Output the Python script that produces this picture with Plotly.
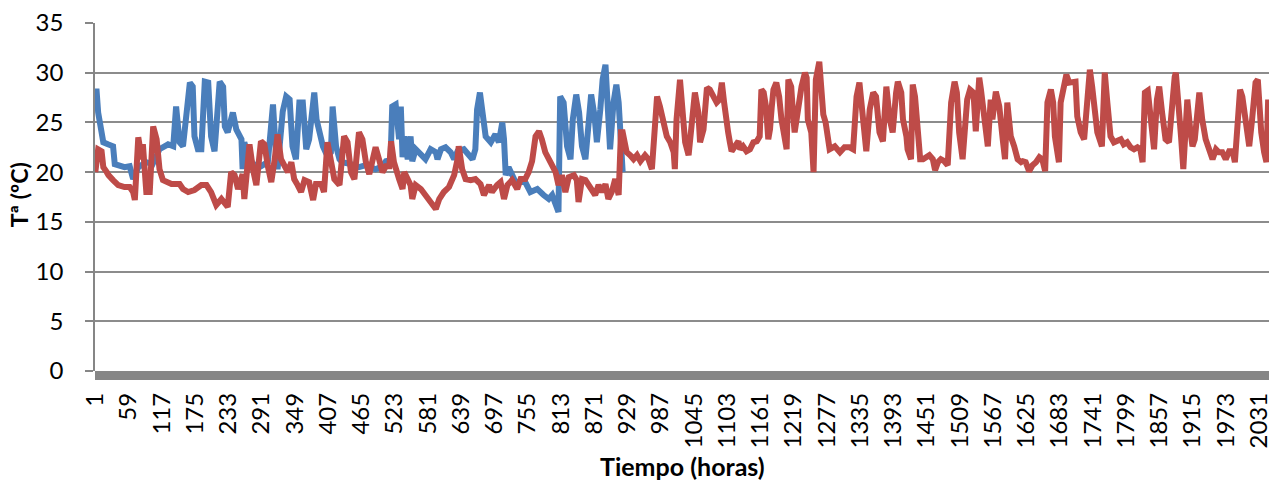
import plotly.graph_objects as go

# Hour index (x) and temperature (y)
blue_hours = [1, 3, 6, 12, 15, 23, 32, 35, 41, 52, 61, 67, 76, 90, 101, 113, 128, 137, 142, 148, 154, 160,
              166, 171, 174, 180, 186, 192, 198, 203, 209, 218, 224, 227, 232, 241, 247, 256, 258,
              261, 266, 276, 290, 302, 305, 311, 316, 319, 328, 334, 340, 345, 351, 357, 363, 369, 374,
              380, 383, 387, 392, 398, 406, 412, 415, 421, 427, 432, 447, 461, 473, 490, 502, 508, 516,
              519, 525, 531, 534, 537, 540, 546, 551, 554, 560, 569, 577, 586, 595, 598, 604, 612, 621,
              627, 633, 644, 653, 659, 664, 667, 672, 678, 682, 691, 699, 705, 711, 714, 717, 722, 728,
              734, 743, 751, 760, 772, 783, 792, 798, 804, 809, 812, 818, 824, 830, 834, 840, 845, 850,
              856, 862, 866, 872, 876, 882, 886, 891, 895, 899, 905, 910, 914, 918, 921]
blue_temp = [27.0, 28.4, 26.0, 23.6, 23.0, 22.8, 22.6, 20.8, 20.7, 20.5, 20.6, 19.3, 20.5, 21.0, 20.8, 22.3,
             22.8, 22.6, 26.6, 23.0, 22.6, 25.3, 29.0, 28.6, 23.6, 22.3, 22.3, 29.1, 29.0, 23.6, 22.1,
             29.1, 28.6, 24.6, 24.0, 26.0, 24.3, 23.3, 20.3,
             23.0, 22.0, 20.8, 20.6, 21.0, 22.6, 26.8, 22.0, 20.3, 26.1, 27.6, 27.3, 22.6, 21.3, 27.0,
             27.0, 22.3, 23.3, 27.0, 28.0, 25.3, 24.3, 22.6, 21.6, 22.0, 26.6, 22.6, 21.3, 21.0, 20.8,
             20.5, 20.7, 20.3, 20.6, 21.1, 21.2, 26.6, 26.8, 23.3, 26.6, 21.5, 23.6, 21.3, 23.6, 21.1,
             22.3, 21.7, 21.3, 22.3, 22.0, 21.3, 22.3, 22.5, 22.0, 21.3, 22.1, 22.3, 21.8, 21.3, 22.3,
             26.3, 28.0, 25.6, 23.6, 23.0, 23.8, 23.0, 25.0, 23.3, 19.7, 20.5, 19.7, 19.0, 19.0, 19.0,
             18.0, 18.3, 17.7, 17.3, 17.7, 16.7, 16.0, 27.6, 27.0, 22.6, 21.3, 25.3, 27.8, 26.0, 22.6,
             21.3, 25.3, 27.8, 25.6, 23.0, 26.3, 29.3, 30.8, 27.3, 22.3, 27.0, 28.8, 27.0, 24.0, 20.0]

red_hours = [1, 6, 12, 15, 21, 24, 32, 41, 52, 61, 67, 70, 76, 82, 84, 90, 96, 102, 108, 113, 119, 134,
             148, 154, 163, 174, 186, 195, 203, 212, 221, 232, 238, 244, 250, 258, 261, 270, 276, 282,
             290, 296, 302, 308, 314, 319, 325, 331, 337, 343, 348, 354, 360, 366, 374, 381, 386, 395,
             400, 406, 412, 418, 427, 435, 441, 447, 453, 461, 467, 473, 479, 485, 490, 496, 502, 508,
             514, 517, 522, 531, 537, 540, 546, 551, 554, 560, 569, 577, 586, 595, 601, 609, 618, 627,
             633, 635, 641, 647, 656, 664, 673, 679, 688, 693, 702, 708, 714, 720, 728, 737, 743, 751,
             757, 763, 769, 775, 780, 786, 795, 804, 809, 815, 821, 827, 836, 841, 844, 850, 856, 862,
             867, 873, 879, 885, 891, 896, 902, 908, 914, 918, 921, 924, 928, 934, 940, 946, 952, 960,
             966, 972, 978, 981, 986, 992, 998, 1004, 1010, 1012, 1015, 1021, 1025, 1030, 1036, 1041,
             1047, 1053, 1056, 1062, 1068, 1073, 1079, 1085, 1090, 1094, 1098, 1101, 1105, 1108, 1111,
             1117, 1123, 1126, 1131, 1137, 1143, 1149, 1155, 1160, 1163, 1167, 1171, 1175, 1178, 1181,
             1184, 1189, 1194, 1198, 1204, 1207, 1210, 1215, 1218, 1221, 1227, 1230, 1233, 1239, 1242,
             1244, 1250, 1254, 1258, 1264, 1268, 1271, 1275, 1279, 1282, 1291, 1300, 1308, 1317, 1323,
             1329, 1334, 1340, 1343, 1346, 1352, 1358, 1363, 1369, 1375, 1378, 1381, 1387, 1392, 1398,
             1401, 1407, 1410, 1416, 1418, 1424, 1427, 1431, 1436, 1440, 1445, 1450, 1456, 1462, 1466,
             1471, 1476, 1482, 1488, 1494, 1500, 1504, 1508, 1514, 1517, 1522, 1527, 1533, 1537, 1540,
             1543, 1546, 1552, 1558, 1563, 1566, 1572, 1578, 1584, 1588, 1592, 1598, 1604, 1610, 1616,
             1619, 1624, 1630, 1636, 1642, 1648, 1653, 1658, 1662, 1668, 1672, 1675, 1679, 1682, 1685,
             1691, 1695, 1700, 1706, 1711, 1714, 1720, 1726, 1732, 1736, 1740, 1745, 1749, 1757, 1759,
             1762, 1766, 1772, 1778, 1784, 1790, 1795, 1801, 1807, 1813, 1819, 1824, 1828, 1832, 1837,
             1843, 1848, 1853, 1857, 1862, 1868, 1874, 1880, 1884, 1886, 1890, 1895, 1899, 1902, 1906,
             1911, 1915, 1919, 1922, 1927, 1932, 1938, 1944, 1950, 1956, 1961, 1967, 1973, 1979, 1985,
             1989, 1993, 1998, 2002, 2008, 2014, 2019, 2025, 2029, 2035, 2040, 2044, 2047]
red_temp = [20.0, 22.3, 22.1, 20.5, 20.0, 19.7, 19.2, 18.7, 18.5, 18.5, 18.0, 17.2, 23.5, 21.3, 22.8, 18.0,
            18.0, 24.6, 23.3, 20.3, 19.2, 18.8, 18.8, 18.3, 18.0, 18.2, 18.7, 18.7, 18.0, 16.7, 17.3,
            16.5, 20.0, 19.7, 18.3, 19.8, 17.3, 22.8, 20.3, 18.7, 23.1, 22.8, 20.6, 19.0, 21.3, 23.8,
            21.3, 20.5, 20.0, 21.0, 19.3, 18.7, 18.0, 19.2, 19.0, 17.2, 18.8, 18.8, 18.0, 23.0, 21.0,
            19.3, 18.7, 23.6, 23.0, 20.0, 19.3, 24.0, 23.3, 21.0, 19.8, 21.0, 22.5, 21.3, 20.0, 20.6,
            20.6, 23.1, 21.0, 19.3, 18.3, 20.0, 19.3, 18.7, 17.3, 18.7, 18.3, 17.7, 17.0, 16.3, 17.3,
            18.0, 18.5, 19.7, 21.3, 22.6, 20.3, 19.3, 19.2, 19.3, 18.8, 17.7, 18.7, 18.0, 18.7, 19.0,
            17.3, 18.7, 19.2, 18.3, 19.3, 19.3, 20.0, 21.1, 23.6, 24.1, 23.3, 22.0, 21.0, 20.0, 18.7,
            19.7, 18.0, 19.5, 19.7, 19.2, 17.0, 19.3, 19.2, 18.7, 18.2, 17.7, 18.7, 18.0, 18.8, 17.3,
            18.0, 19.3, 17.7, 24.0, 24.0, 23.0, 22.0, 21.7, 21.3, 21.7, 21.1, 21.7, 21.3, 20.3, 24.6,
            27.6, 26.6, 25.0, 23.6, 23.0, 22.0, 20.3, 25.3, 29.3, 26.6, 23.0, 21.7, 25.3, 28.0, 26.0,
            23.0, 24.3, 28.5, 28.3, 27.6, 27.0, 27.3, 29.0, 27.0, 25.0, 24.0, 23.0, 22.1, 22.6, 23.1,
            22.3, 22.6, 22.1, 22.3, 23.0, 23.1, 23.6, 28.3, 28.0, 26.6, 23.3, 24.3, 26.5, 28.3, 29.0,
            27.6, 25.3, 23.0, 22.3, 29.3, 28.6, 26.0, 24.0, 26.3, 28.3, 28.6, 30.0, 29.5, 25.3, 24.0,
            20.0, 29.3, 31.1, 28.0, 25.8, 25.0, 23.3, 22.3, 22.6, 22.0, 22.5, 22.5, 22.3, 27.6, 29.0,
            25.3, 23.0, 22.1, 26.3, 28.0, 27.6, 24.0, 23.1, 27.0, 28.6, 25.3, 24.0, 28.0, 29.1, 28.0,
            25.3, 23.6, 22.3, 21.3, 28.8, 27.6, 24.3, 21.3, 21.3, 21.5, 21.7, 21.3, 20.2, 21.0, 21.3,
            21.1, 20.7, 27.0, 29.1, 28.0, 24.0, 21.3, 23.6, 27.3, 28.3, 28.0, 24.1, 28.6, 29.5, 28.3,
            25.3, 22.6, 27.3, 25.3, 28.1, 26.6, 23.3, 21.3, 27.0, 23.6, 22.6, 21.3, 21.0, 21.1, 21.0,
            20.1, 20.7, 21.0, 21.5, 21.3, 20.1, 27.0, 28.3, 27.0, 23.6, 22.0, 21.0, 27.0, 28.6, 29.8,
            29.0, 29.0, 29.1, 25.6, 24.0, 23.3, 27.0, 30.3, 28.6, 25.3, 24.0, 22.6, 28.0, 30.0, 27.3,
            23.6, 23.0, 23.1, 23.3, 22.8, 23.0, 22.5, 22.3, 22.5, 22.3, 21.0, 28.0, 28.2, 25.3, 22.3,
            27.3, 28.6, 26.0, 23.3, 23.0, 28.0, 29.6, 30.0, 26.0, 23.6, 20.3, 23.6, 27.3, 24.3, 22.6,
            23.3, 25.3, 28.0, 25.3, 23.3, 22.3, 21.3, 22.3, 22.0, 22.0, 21.3, 22.1, 22.1, 21.0, 25.3,
            28.3, 27.6, 24.6, 22.6, 25.3, 29.0, 29.3, 24.0, 22.0, 21.0, 27.3]

tick_hours = list(range(1, 2032, 58))
tick_labels = [str(h) for h in tick_hours]
y_ticks = [0, 5, 10, 15, 20, 25, 30, 35]
n_hours = 2048

AXIS_GRAY = "#868686"
FONT = "Lato"

fig = go.Figure()
fig.add_trace(go.Scatter(x=blue_hours, y=blue_temp, mode="lines",
                         line=dict(color="#4A7EBB", width=6), hoverinfo="skip", showlegend=False))
fig.add_trace(go.Scatter(x=red_hours, y=red_temp, mode="lines",
                         line=dict(color="#BE4B48", width=6), hoverinfo="skip", showlegend=False))

fig.update_layout(
    width=1279, height=484,
    margin=dict(l=95, r=7, t=19, b=113),
    paper_bgcolor="white", plot_bgcolor="white",
    font=dict(family=FONT, color="black"),
    showlegend=False,
    shapes=[
        # thick grey base bar under the category axis
        dict(type="rect", xref="paper", yref="paper", x0=0, x1=1, y0=-0.026, y1=0,
             fillcolor=AXIS_GRAY, line=dict(width=0), layer="above"),
    ],
    annotations=[
        dict(text="<b>Tiempo (horas)</b>", xref="paper", yref="paper", x=0.5, y=-0.274,
             xanchor="center", yanchor="middle", showarrow=False, font=dict(size=25, family=FONT)),
        dict(text="<b>Tª (ºC)</b>", xref="paper", yref="paper", x=-0.0645, y=0.506,
             xanchor="center", yanchor="middle", showarrow=False, textangle=-90,
             font=dict(size=23, family=FONT)),
    ],
)
fig.update_xaxes(
    range=[0.5, n_hours + 0.5], tickmode="array", tickvals=tick_hours, ticktext=tick_labels,
    tickangle=-90, tickfont=dict(size=24, family=FONT), showgrid=False, zeroline=False,
    showline=False, ticks="", ticklabelstandoff=16,
)
fig.update_yaxes(
    range=[0, 35], tickmode="array", tickvals=y_ticks, tickfont=dict(size=24, family=FONT),
    showgrid=True, gridcolor="#8C8C8C", gridwidth=1.5, zeroline=False,
    showline=True, linecolor=AXIS_GRAY, linewidth=1.5,
    ticks="outside", ticklen=8, tickcolor=AXIS_GRAY, tickwidth=1.5, ticklabelstandoff=17,
)

fig.write_html("out.html")
